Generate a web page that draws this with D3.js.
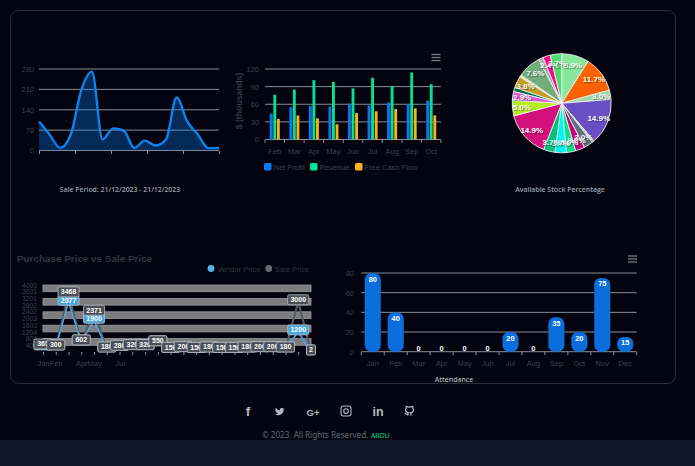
<!DOCTYPE html>
<html>
<head>
<meta charset="utf-8">
<script src="https://cdn.jsdelivr.net/npm/d3@7"></script>
<style>
  html, body { margin: 0; padding: 0; background: #03040f; overflow: hidden; }
  svg { display: block; }
  text { font-family: "Liberation Sans", Arial, sans-serif; opacity: 0.999; }
  .caption { font-family: "Open Sans", sans-serif; font-weight: 600; }
</style>
</head>
<body>
<script>
// sale period area chart
const saleValues = [100, 55, 9, 55, 208, 271, 38, 76, 68, 9, 34, 17, 38, 182, 100, 55, 8, 9];
const saleTicks = [0, 70, 140, 210, 280];

// monthly columns
const cashMonths = ["Feb", "Mar", "Apr", "May", "Jun", "Jul", "Aug", "Sep", "Oct"];
const netProfit = [44, 55, 57, 56, 61, 58, 63, 60, 66];
const revenue = [76, 85, 101, 98, 87, 105, 91, 114, 94];
const freeCashFlow = [35, 41, 36, 26, 45, 48, 52, 53, 41];
const cashTicks = [0, 30, 60, 90, 120];

// stock pie
const stockValues = [8.9, 11.7, 3.0, 14.9, 0.7, 3.0, 3.0, 3.0, 3.7, 3.7, 14.9, 5.0, 2.9, 1.3, 3.8, 0.7, 7.6, 1.5, 2.4, 3.7];
const stockColors = ["#85e89d", "#ff6200", "#a0d8a0", "#6a4fc4", "#b8dca0", "#5c7080", "#c4007a", "#00e28a", "#00f5f0", "#00c47a",
  "#d4107c", "#b4ee20", "#d85cd8", "#04664a", "#c0a024", "#e8e0a0", "#72ae7c", "#a4b0a8", "#ff0090", "#4fdc6c"];

// purchase vs sale
const priceLabels = ["Jan", "Feb", "", "Apr", "May", "", "Jul", "", "", "", "", "", "", "", "", "", "", "", "", "", "", ""];
const vendorPrice = [300, 300, 2977, 602, 1900, 180, 280, 320, 320, 550, 150, 200, 150, 180, 150, 150, 180, 200, 200, 180, 1200, 2];
const salePrice = [365, 300, 3468, 602, 2371, 180, 280, 320, 320, 550, 150, 200, 150, 180, 150, 150, 180, 200, 200, 180, 3000, 2];
const priceTicks = [400, 804, 1204, 1603, 2003, 2402, 2802, 3201, 3601, 4000];

// attendance
const attendanceMonths = ["Jan", "Feb", "Mar", "Apr", "May", "Jun", "Jul", "Aug", "Sep", "Oct", "Nov", "Dec"];
const attendance = [80, 40, 0, 0, 0, 0, 20, 0, 35, 20, 75, 15];
const attendanceTicks = [0, 20, 40, 60, 80];

const dim = "#3d404c";
const gridColor = "#8a8d95";

const svg = d3.select("body").append("svg").attr("width", 695).attr("height", 466);

svg.append("rect").attr("x", 0).attr("y", 440).attr("width", 695).attr("height", 26).attr("fill", "#10162a");
svg.append("rect")
  .attr("x", 10.5).attr("y", 10.5).attr("width", 665).attr("height", 373).attr("rx", 8)
  .attr("fill", "#03040f").attr("stroke", "#2a2d3a");

function styleAxis(g, size) {
  g.selectAll("text").attr("fill", dim).style("font-size", size + "px");
  g.selectAll("line").attr("stroke", "#8b8e96");
  g.select(".domain").remove();
}

function caption(text, x, y, color) {
  svg.append("text").attr("class", "caption")
    .attr("x", x).attr("y", y).attr("text-anchor", "middle")
    .attr("fill", color).style("font-size", "6.9px").text(text);
}

function menuIcon(x, y) {
  [-3, 0, 3].forEach((d) => {
    svg.append("line").attr("x1", x - 4.5).attr("x2", x + 4.5).attr("y1", y + d).attr("y2", y + d)
      .attr("stroke", "#7a7d86").attr("stroke-width", 1.3);
  });
}

// area chart
{
  const x = d3.scaleLinear().domain([0, saleValues.length - 1]).range([39, 219]);
  const y = d3.scaleLinear().domain([0, 280]).range([150.5, 69]);
  const g = svg.append("g");

  g.selectAll(".grid").data(saleTicks).enter().append("line")
    .attr("x1", 39).attr("x2", 219).attr("y1", (d) => y(d)).attr("y2", (d) => y(d))
    .attr("stroke", gridColor).attr("stroke-width", 1);

  const yAxis = g.append("g").attr("transform", "translate(39,0)")
    .call(d3.axisLeft(y).tickValues(saleTicks).tickSize(0).tickPadding(5));
  styleAxis(yAxis, 7.5);

  const xAxis = g.append("g").attr("transform", "translate(0,151)")
    .call(d3.axisBottom(x).tickValues([0, 3.4, 6.8, 10.2, 13.6, 17]).tickSize(3).tickFormat(""));
  styleAxis(xAxis, 7);

  const area = d3.area().x((d, i) => x(i)).y0(y(0)).y1((d) => y(d)).curve(d3.curveMonotoneX);
  const line = d3.line().x((d, i) => x(i)).y((d) => y(d)).curve(d3.curveMonotoneX);
  g.append("path").attr("d", area(saleValues)).attr("fill", "#0a84ff").attr("opacity", 0.3);
  g.append("path").attr("d", line(saleValues)).attr("fill", "none").attr("stroke", "#0a84f0").attr("stroke-width", 2.4);

  caption("Sale Period: 21/12/2023 - 21/12/2023", 120, 192, "#9a9fab");
}

// grouped columns
{
  const x = d3.scaleBand().domain(cashMonths).range([265, 441]);
  const y = d3.scaleLinear().domain([0, 120]).range([139.5, 69]);
  const inner = d3.scaleBand().domain([0, 1, 2]).range([0, 10]).paddingInner(0.2);
  const series = [netProfit, revenue, freeCashFlow];
  const colors = ["#0a78f0", "#00e396", "#feb019"];
  const names = ["Net Profit", "Revenue", "Free Cash Flow"];
  const g = svg.append("g");

  g.selectAll(".grid").data(cashTicks).enter().append("line")
    .attr("x1", 265).attr("x2", 441).attr("y1", (d) => y(d)).attr("y2", (d) => y(d))
    .attr("stroke", gridColor).attr("stroke-width", 1);

  const yAxis = g.append("g").attr("transform", "translate(265,0)")
    .call(d3.axisLeft(y).tickValues(cashTicks).tickSize(0).tickPadding(6));
  styleAxis(yAxis, 7.5);

  const xAxis = g.append("g").attr("transform", "translate(0,140)")
    .call(d3.axisBottom(x).tickSize(0).tickPadding(9));
  styleAxis(xAxis, 7.5);

  g.selectAll(".tick-mark").data(d3.range(cashMonths.length + 1)).enter().append("line")
    .attr("x1", (d) => 265 + d * x.step()).attr("x2", (d) => 265 + d * x.step())
    .attr("y1", 140).attr("y2", 143).attr("stroke", "#8b8e96");

  series.forEach((values, s) => {
    g.selectAll(".bar" + s).data(values).enter().append("rect")
      .attr("x", (d, i) => x(cashMonths[i]) + x.bandwidth() / 2 - 5 + inner(s))
      .attr("width", inner.bandwidth())
      .attr("y", (d) => y(d))
      .attr("height", (d) => y(0) - y(d))
      .attr("fill", colors[s]);
  });

  svg.append("text")
    .attr("transform", "translate(242,101) rotate(-90)")
    .attr("text-anchor", "middle").attr("fill", "#33363f")
    .style("font-size", "8.6px").style("font-weight", "bold")
    .text("$ (thousands)");

  const legendX = [264, 310, 355];
  names.forEach((name, i) => {
    svg.append("rect").attr("x", legendX[i]).attr("y", 163).attr("width", 7.5).attr("height", 7.5).attr("rx", 1.5).attr("fill", colors[i]);
    svg.append("text").attr("x", legendX[i] + 9.5).attr("y", 169.5).attr("fill", dim).style("font-size", "7.5px").text(name);
  });

  menuIcon(436, 57.5);
}

// pie
{
  const cx = 561.7, cy = 103.3, r = 49.5;
  const arc = d3.arc().innerRadius(0).outerRadius(r);
  const labelArc = d3.arc().innerRadius(r * 0.81).outerRadius(r * 0.81);
  const arcs = d3.pie().sort(null)(stockValues);
  const g = svg.append("g").attr("transform", `translate(${cx},${cy})`);

  g.selectAll("path").data(arcs).enter().append("path")
    .attr("d", arc).attr("fill", (d, i) => stockColors[i])
    .attr("stroke", "#f2f2f2").attr("stroke-width", 0.9);

  g.selectAll("text").data(arcs.filter((d) => d.data >= 2)).enter().append("text")
    .attr("transform", (d) => `translate(${labelArc.centroid(d)})`)
    .attr("text-anchor", "middle").attr("dy", "0.35em")
    .attr("fill", "#fff").style("font-size", "8px").style("font-weight", "bold")
    .style("text-shadow", "1px 1px 1px rgba(0,0,0,0.45)")
    .text((d) => d.data.toFixed(1) + "%");

  caption("Available Stock Percentage", 560, 192, "#9a9fab");
}

// purchase vs sale
{
  const x = d3.scalePoint().domain(d3.range(salePrice.length)).range([43, 311]);
  const y = d3.scaleLinear().domain([0, 4000]).range([352, 285]);
  const g = svg.append("g");

  svg.append("text").attr("x", 17).attr("y", 262).attr("fill", "#34363f")
    .style("font-size", "9.9px").style("font-weight", "bold").text("Purchase Price vs Sale Price");

  const bands = [4000, 3200, 2400, 1600, 800];
  g.selectAll(".band").data(bands).enter().append("rect")
    .attr("x", 43).attr("width", 268).attr("y", (d) => y(d)).attr("height", (d) => y(d - 400) - y(d))
    .attr("fill", "#7c7c81").attr("stroke", "#9a9a9f").attr("stroke-width", 0.8);

  const yAxis = g.append("g").attr("transform", "translate(43,0)")
    .call(d3.axisLeft(y).tickValues(priceTicks).tickSize(0).tickPadding(6).tickFormat(d3.format("d")));
  styleAxis(yAxis, 6.8);

  const xAxis = g.append("g").attr("transform", "translate(0,352)")
    .call(d3.axisBottom(x).tickSize(3).tickPadding(6).tickFormat((d) => priceLabels[d]));
  styleAxis(xAxis, 7.5);

  const line = d3.line().x((d, i) => x(i)).y((d) => y(d));
  g.append("path").attr("d", line(salePrice)).attr("fill", "none").attr("stroke", "#545a64").attr("stroke-width", 2);
  g.append("path").attr("d", line(vendorPrice)).attr("fill", "none").attr("stroke", "#4fa3d8").attr("stroke-width", 1.6);

  function drawLabels(values, fill) {
    values.forEach((v, i) => {
      const label = String(v);
      const w = label.length === 1 ? 9 : label.length === 3 ? 18 : 21;
      const lg = g.append("g").attr("transform", `translate(${x(i)},${y(v) - 2})`);
      lg.append("rect").attr("x", -w / 2).attr("y", -5).attr("width", w).attr("height", 10).attr("rx", 1.5)
        .attr("fill", fill).attr("stroke", "#b9bcc2").attr("stroke-width", 0.8);
      lg.append("text").attr("text-anchor", "middle").attr("dy", "0.35em")
        .attr("fill", "#fff").style("font-size", "7px").style("font-weight", "bold").text(label);
    });
  }
  drawLabels(vendorPrice, "#49a7dd");
  drawLabels(salePrice, "#4c4f57");

  const legend = [["Vendor Price", 211, "#56b4e9"], ["Sale Price", 268.7, "#666a70"]];
  legend.forEach(([name, lx, color]) => {
    svg.append("circle").attr("cx", lx).attr("cy", 268.5).attr("r", 3.4).attr("fill", color);
    svg.append("text").attr("x", lx + 6).attr("y", 271.5).attr("fill", "#34363f").style("font-size", "7.6px").text(name);
  });
}

// attendance
{
  const x = d3.scaleBand().domain(attendanceMonths).range([361.3, 636.7]).paddingInner(0.3).paddingOuter(0.15);
  const y = d3.scaleLinear().domain([0, 80]).range([351.7, 273]);
  const step = (636.7 - 361.3) / attendanceMonths.length;
  const g = svg.append("g");

  g.selectAll(".grid").data(attendanceTicks).enter().append("line")
    .attr("x1", 361.3).attr("x2", 636.7).attr("y1", (d) => y(d)).attr("y2", (d) => y(d))
    .attr("stroke", gridColor).attr("stroke-width", 1);

  const yAxis = g.append("g").attr("transform", "translate(361,0)")
    .call(d3.axisLeft(y).tickValues(attendanceTicks).tickSize(0).tickPadding(7));
  styleAxis(yAxis, 7.5);

  const xAxis = g.append("g").attr("transform", "translate(0,352)")
    .call(d3.axisBottom(x).tickSize(0).tickPadding(9));
  styleAxis(xAxis, 7.5);

  g.selectAll(".tick-mark").data(d3.range(attendanceMonths.length + 1)).enter().append("line")
    .attr("x1", (d) => 361.3 + d * step).attr("x2", (d) => 361.3 + d * step)
    .attr("y1", 352).attr("y2", 355).attr("stroke", "#8b8e96");

  g.selectAll(".bar").data(attendance).enter().append("rect")
    .attr("x", (d, i) => x(attendanceMonths[i]))
    .attr("width", x.bandwidth())
    .attr("y", (d) => y(d))
    .attr("height", (d) => y(0) - y(d))
    .attr("rx", 6.5)
    .attr("fill", "#0a6fdc");

  g.selectAll(".value").data(attendance).enter().append("text")
    .attr("x", (d, i) => x(attendanceMonths[i]) + x.bandwidth() / 2)
    .attr("y", (d) => (d === 0 ? y(d) - 0.5 : y(d) + 8.5))
    .attr("text-anchor", "middle").attr("fill", "#fff")
    .style("font-size", "7.4px").style("font-weight", "bold")
    .text((d) => d);

  menuIcon(632.5, 259);
  caption("Attendance", 454, 382, "#a8adb8");
}

// footer
{
  const iconColor = "#b4bac4";
  const textIcon = (label, x, size) => svg.append("text").attr("x", x).attr("y", 415.5).attr("text-anchor", "middle")
    .attr("fill", iconColor).style("font-size", size + "px").style("font-weight", "bold").text(label);
  textIcon("f", 248, 13.5);
  textIcon("G+", 313, 9.5);
  textIcon("in", 378, 12.5);

  svg.append("path").attr("transform", "translate(274.5,406) scale(0.44)")
    .attr("d", "M23 3a10.9 10.9 0 0 1-3 3 4.48 4.48 0 0 0-7.86 3v1A10.66 10.66 0 0 1 3 4s-4 9 5 13a11.64 11.64 0 0 1-7 2c9 5 20 0 20-11.5a4.5 4.5 0 0 0-.08-.83A7.72 7.72 0 0 0 23 3z")
    .attr("fill", iconColor);

  svg.append("rect").attr("x", 341).attr("y", 406).attr("width", 10).attr("height", 10).attr("rx", 2.5)
    .attr("fill", "none").attr("stroke", iconColor).attr("stroke-width", 1.1);
  svg.append("circle").attr("cx", 346).attr("cy", 411).attr("r", 2.3)
    .attr("fill", "none").attr("stroke", iconColor).attr("stroke-width", 1.1);

  svg.append("path").attr("transform", "translate(404,406) scale(0.44)")
    .attr("d", "M9 19c-5 1.5-5-2.5-7-3m14 6v-3.87a3.37 3.37 0 0 0-.94-2.61c3.14-.35 6.44-1.54 6.44-7A5.44 5.44 0 0 0 20 4.77 5.07 5.07 0 0 0 19.91 1S18.73.65 16 2.48a13.38 13.38 0 0 0-7 0C6.27.65 5.09 1 5.09 1A5.07 5.07 0 0 0 5 4.77a5.44 5.44 0 0 0-1.5 3.78c0 5.42 3.3 6.61 6.44 7A3.37 3.37 0 0 0 9 18.13V22")
    .attr("fill", "none").attr("stroke", iconColor).attr("stroke-width", 2.8);

  svg.append("text").attr("x", 262).attr("y", 438)
    .attr("fill", "#656a76").style("font-family", "'Noto Sans', sans-serif").style("font-size", "8.1px")
    .text("© 2023. All Rights Reserved.");
  svg.append("text").attr("x", 371).attr("y", 438)
    .attr("fill", "#00d68a").style("font-family", "'Noto Sans', sans-serif").style("font-size", "6.8px")
    .text("ABDU");
}
</script>
</body>
</html>
